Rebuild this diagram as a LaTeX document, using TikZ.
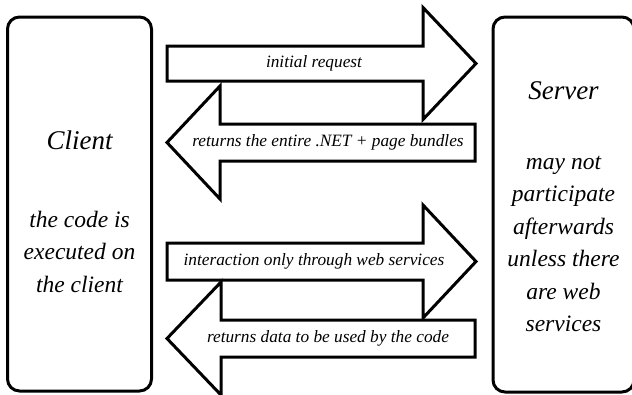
\documentclass[tikz,border=0pt]{standalone}
\usepackage{fontspec}
\setmainfont{Liberation Serif}
\usetikzlibrary{positioning}

\begin{document}
\begin{tikzpicture}[
        x=1pt, y=-1pt,
        side/.style={draw, line width=3pt, rounded corners=12pt, minimum width=144pt, inner sep=0pt},
        title/.style={font=\fontsize{27}{32}\selectfont\itshape, anchor=base},
        body/.style={font=\fontsize{23.5}{32.4}\selectfont\itshape, align=center, inner sep=0pt},
        bigarrow/.style={draw, line width=3pt, fill=white, miter limit=10},
        label/.style={font=\fontsize{17.3}{20}\selectfont\itshape, inner sep=0pt},
    ]
    \useasboundingbox (0,0) rectangle (632,394);
    \clip (0,0) rectangle (632,394);

    % Client
    \node[side, minimum height=374pt] (client) at (79.5,204) {};
    \node[title] (clienttitle) at (79.5,149) {Client};
    \node[body, below=62pt of clienttitle.base] (clientbody) {the code is\\executed on\\the client};

    % Server
    \node[side, minimum height=375pt, minimum width=141pt] (server) at (563.5,204.5) {};
    \node[title] (servertitle) at (563.5,99) {Server};
    \node[body, below=57pt of servertitle.base] (serverbody) {may not\\participate\\afterwards\\unless there\\are web\\services};

    % Arrows
    \draw[bigarrow] (167,46) -- (423,46) -- (423,7.5) -- (476,63.5) -- (423,119.5) -- (423,81) -- (167,81) -- cycle;
    \draw[bigarrow] (475,124) -- (220,124) -- (220,86) -- (167,142.5) -- (220,199) -- (220,161) -- (475,161) -- cycle;
    \draw[bigarrow] (167,243) -- (423,243) -- (423,205) -- (476,261.5) -- (423,318) -- (423,280) -- (167,280) -- cycle;
    \draw[bigarrow] (475,320) -- (221,320) -- (221,282) -- (167,338.5) -- (221,395) -- (221,357) -- (475,357) -- cycle;

    % Labels
    \node[label] (request) at (314,63.5) {initial request};
    \node[label] (bundles) at (328,142.5) {returns the entire .NET + page bundles};
    \node[label] (interact) at (314,261.5) {interaction only through web services};
    \node[label] (data) at (328,338.5) {returns data to be used by the code};

\end{tikzpicture}
\end{document}
